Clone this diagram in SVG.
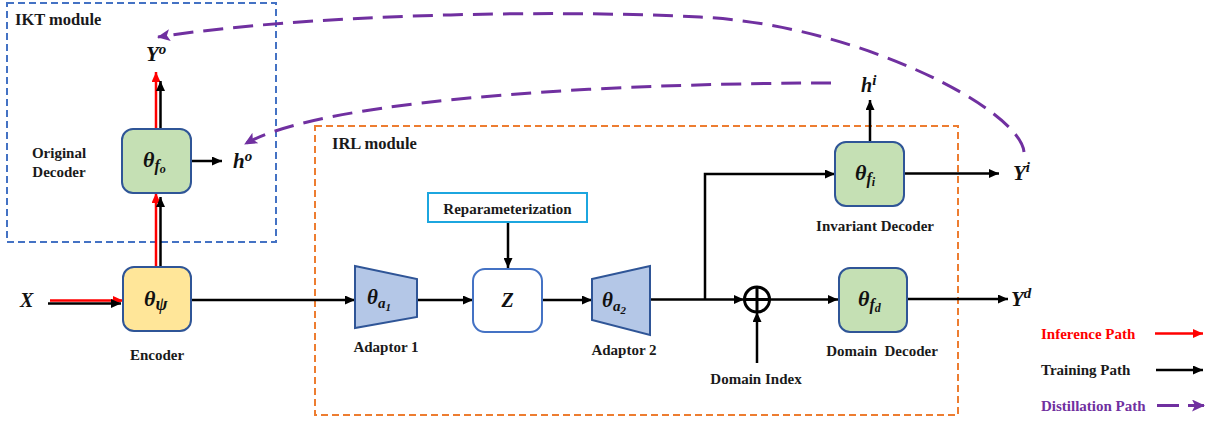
<svg xmlns="http://www.w3.org/2000/svg" width="1216" height="426" viewBox="0 0 1216 426">
  <style>
    .lbl { font-family: "Liberation Serif", "Times New Roman", serif; font-weight: bold; font-size: 15px; fill: #1a1a1a; }
    .mod { font-family: "Liberation Serif", "Times New Roman", serif; font-weight: bold; font-size: 16.5px; fill: #1a1a1a; }
    .math { font-family: "Liberation Serif", "Times New Roman", serif; font-weight: bold; font-style: italic; fill: #111; }
    .dec { fill: #C5E0B4; stroke: #2F5597; stroke-width: 2; }
    .enc { fill: #FFE699; stroke: #2F5597; stroke-width: 2; }
    .adp { fill: #B4C7E7; stroke: #2F5597; stroke-width: 2; }
    .wire { fill: none; stroke: #000; stroke-width: 2.5; }
    .red { fill: none; stroke: #FF0000; stroke-width: 2.5; }
    .distill { fill: none; stroke: #7030A0; stroke-width: 3; stroke-dasharray: 20 10; }
  </style>
  <defs>
    <marker id="ah" markerUnits="userSpaceOnUse" markerWidth="10" markerHeight="9" refX="10" refY="4.5" orient="auto">
      <path d="M0,0 L10,4.5 L0,9 z" fill="#000"/>
    </marker>
    <marker id="ahRed" markerUnits="userSpaceOnUse" markerWidth="10" markerHeight="9" refX="10" refY="4.5" orient="auto">
      <path d="M0,0 L10,4.5 L0,9 z" fill="#FF0000"/>
    </marker>
    <marker id="ahPurple" markerUnits="userSpaceOnUse" markerWidth="14" markerHeight="12" refX="12" refY="6" orient="auto">
      <path d="M0,0 L13,6 L0,12 L3,6 z" fill="#7030A0"/>
    </marker>
  </defs>

  <!-- module frames -->
  <g id="ikt-module">
    <rect x="7" y="3" width="269" height="239" fill="none" stroke="#4472C4" stroke-width="2" stroke-dasharray="7 4"/>
    <text class="mod" x="15" y="25">IKT module</text>
  </g>
  <g id="irl-module">
    <rect x="315" y="126" width="643" height="289" fill="none" stroke="#ED7D31" stroke-width="2" stroke-dasharray="7 4"/>
    <text class="mod" x="332" y="149">IRL module</text>
  </g>

  <!-- connectors -->
  <g id="connectors">
    <!-- input X into encoder -->
    <line class="red" x1="50" y1="300.5" x2="123" y2="300.5" marker-end="url(#ahRed)"/>
    <line class="wire" x1="48" y1="303.5" x2="121" y2="303.5" marker-end="url(#ah)"/>
    <!-- encoder to original decoder -->
    <line class="red" x1="156" y1="266" x2="156" y2="193" marker-end="url(#ahRed)"/>
    <line class="wire" x1="160.5" y1="266" x2="160.5" y2="197" marker-end="url(#ah)"/>
    <!-- original decoder to Y^o -->
    <line class="red" x1="156" y1="129" x2="156" y2="72" marker-end="url(#ahRed)"/>
    <line class="wire" x1="160.5" y1="129" x2="160.5" y2="81" marker-end="url(#ah)"/>
    <!-- original decoder to h^o -->
    <line class="wire" x1="191" y1="161" x2="222" y2="161" marker-end="url(#ah)"/>
    <!-- encoder to adaptor 1 -->
    <line class="wire" x1="191" y1="300" x2="355" y2="300" marker-end="url(#ah)"/>
    <!-- adaptor 1 to Z -->
    <line class="wire" x1="417" y1="300" x2="473" y2="300" marker-end="url(#ah)"/>
    <!-- reparameterization to Z -->
    <line class="wire" x1="508" y1="222" x2="508" y2="268" marker-end="url(#ah)"/>
    <!-- Z to adaptor 2 -->
    <line class="wire" x1="542" y1="300" x2="592" y2="300" marker-end="url(#ah)"/>
    <!-- adaptor 2 to sum node -->
    <line class="wire" x1="650" y1="299.5" x2="744" y2="299.5" marker-end="url(#ah)"/>
    <!-- branch to invariant decoder -->
    <polyline class="wire" points="705,299.5 705,174 835,174" marker-end="url(#ah)"/>
    <!-- domain index into sum node -->
    <line class="wire" x1="757" y1="363" x2="757" y2="312" marker-end="url(#ah)"/>
    <!-- sum node to domain decoder -->
    <line class="wire" x1="770" y1="299.5" x2="838" y2="299.5" marker-end="url(#ah)"/>
    <!-- invariant decoder outputs -->
    <line class="wire" x1="870" y1="142" x2="870" y2="100" marker-end="url(#ah)"/>
    <line class="wire" x1="904" y1="173.5" x2="999" y2="173.5" marker-end="url(#ah)"/>
    <!-- domain decoder output -->
    <line class="wire" x1="907" y1="299" x2="1008" y2="299" marker-end="url(#ah)"/>
    <!-- distillation paths -->
    <path class="distill" d="M1024,152 C1020,110 860,25 700,17 C540,9 300,15 158,37" marker-end="url(#ahPurple)"/>
    <path class="distill" d="M831,83 C650,83 330,95 245,144" marker-end="url(#ahPurple)"/>
  </g>

  <!-- original decoder -->
  <g id="original-decoder">
    <rect class="dec" x="122" y="129" width="69" height="64" rx="11"/>
    <text class="math" x="143" y="167" font-size="22">θ<tspan font-size="16" dy="4">f</tspan><tspan font-size="12" dy="2">o</tspan></text>
    <text class="lbl" x="59" y="158" text-anchor="middle">Original</text>
    <text class="lbl" x="59" y="177" text-anchor="middle">Decoder</text>
  </g>
  <g id="y-o">
    <text class="math" x="146" y="61" font-size="21">Y<tspan font-size="15" dy="-7">o</tspan></text>
  </g>
  <g id="h-o">
    <text class="math" x="233" y="168" font-size="21">h<tspan font-size="15" dy="-7">o</tspan></text>
  </g>

  <!-- encoder -->
  <g id="encoder">
    <rect class="enc" x="123" y="267" width="68" height="64" rx="11"/>
    <text class="math" x="144" y="306" font-size="22">θ<tspan font-size="18" dy="4">ψ</tspan></text>
    <text class="lbl" x="157" y="360" text-anchor="middle">Encoder</text>
  </g>
  <g id="input-x">
    <text class="math" x="20" y="307" font-size="20">X</text>
  </g>

  <!-- adaptors and latent -->
  <g id="adaptor-1">
    <polygon class="adp" points="355,266 417,279 417,317 355,328"/>
    <text class="math" x="367" y="304" font-size="21">θ<tspan font-size="15" dy="4">a</tspan><tspan font-size="11" dy="3">1</tspan></text>
    <text class="lbl" x="386" y="352" text-anchor="middle">Adaptor 1</text>
  </g>
  <g id="reparameterization">
    <rect x="428" y="193" width="159" height="29" fill="#fff" stroke="#1CA6DF" stroke-width="2"/>
    <text class="lbl" x="507.5" y="214" text-anchor="middle">Reparameterization</text>
  </g>
  <g id="latent-z">
    <rect x="473" y="269" width="69" height="63" rx="12" fill="#fff" stroke="#4472C4" stroke-width="2"/>
    <text class="math" x="507.5" y="307" font-size="20" text-anchor="middle">Z</text>
  </g>
  <g id="adaptor-2">
    <polygon class="adp" points="592,279 650,266 650,335 592,320"/>
    <text class="math" x="602" y="307" font-size="21">θ<tspan font-size="15" dy="4">a</tspan><tspan font-size="11" dy="3">2</tspan></text>
    <text class="lbl" x="624" y="355" text-anchor="middle">Adaptor 2</text>
  </g>

  <!-- domain fusion -->
  <g id="sum-node">
    <circle cx="757" cy="299.5" r="12.5" fill="#fff" stroke="#000" stroke-width="3"/>
    <line x1="744.5" y1="299.5" x2="769.5" y2="299.5" stroke="#000" stroke-width="3"/>
    <line x1="757" y1="287" x2="757" y2="312" stroke="#000" stroke-width="3"/>
  </g>
  <g id="domain-index">
    <text class="lbl" x="756" y="384" text-anchor="middle">Domain Index</text>
  </g>

  <!-- decoders -->
  <g id="invariant-decoder">
    <rect class="dec" x="835" y="142" width="69" height="64" rx="11"/>
    <text class="math" x="855" y="180" font-size="22">θ<tspan font-size="16" dy="4">f</tspan><tspan font-size="12" dy="2">i</tspan></text>
    <text class="lbl" x="875" y="231" text-anchor="middle">Invariant Decoder</text>
  </g>
  <g id="h-i">
    <text class="math" x="861" y="92" font-size="20">h<tspan font-size="15" dy="-7">i</tspan></text>
  </g>
  <g id="y-i">
    <text class="math" x="1013" y="180" font-size="21">Y<tspan font-size="15" dy="-8">i</tspan></text>
  </g>
  <g id="domain-decoder">
    <rect class="dec" x="839" y="268" width="68" height="64" rx="11"/>
    <text class="math" x="858" y="306" font-size="22">θ<tspan font-size="16" dy="4">f</tspan><tspan font-size="12" dy="2">d</tspan></text>
    <text class="lbl" x="882" y="356" text-anchor="middle" xml:space="preserve">Domain  Decoder</text>
  </g>
  <g id="y-d">
    <text class="math" x="1011" y="306" font-size="21">Y<tspan font-size="15" dy="-8">d</tspan></text>
  </g>

  <!-- legend -->
  <g id="legend">
    <text class="lbl" x="1041" y="339" style="fill:#FF0000">Inference Path</text>
    <line class="red" x1="1155" y1="333.5" x2="1203" y2="333.5" marker-end="url(#ahRed)"/>
    <text class="lbl" x="1041" y="375">Training Path</text>
    <line class="wire" x1="1156" y1="370" x2="1203" y2="370" marker-end="url(#ah)"/>
    <text class="lbl" x="1041" y="411" style="fill:#7030A0">Distillation Path</text>
    <line x1="1157" y1="405.5" x2="1204" y2="405.5" stroke="#7030A0" stroke-width="3" stroke-dasharray="22 9" marker-end="url(#ahPurple)"/>
  </g>
</svg>
